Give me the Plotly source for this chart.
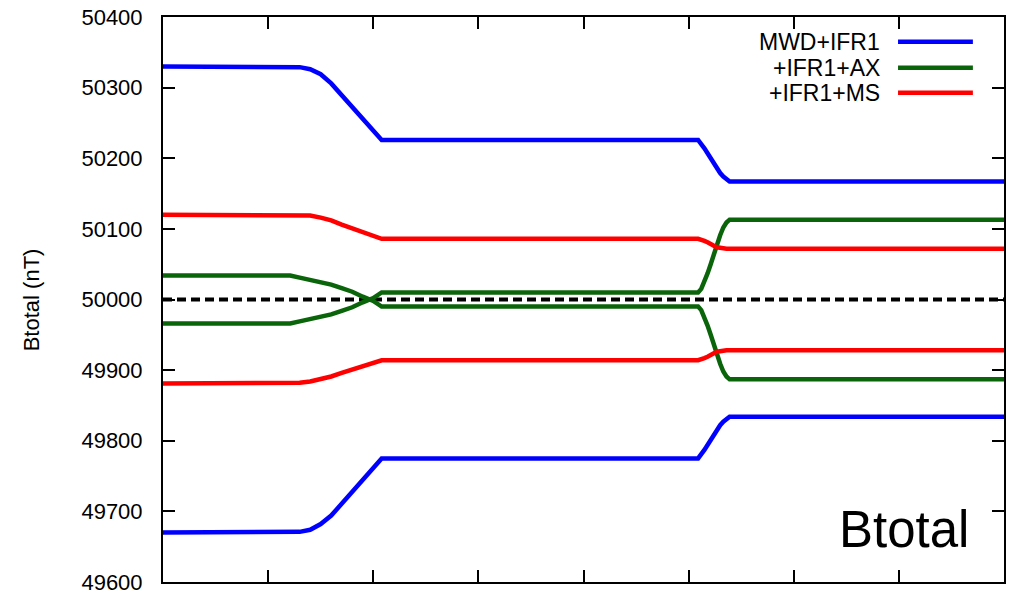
import plotly.graph_objects as go

# Along-track positions (x axis has 8 unlabeled divisions)
x_pos = [0,
         1.21, 1.30, 1.40, 1.50, 1.60, 1.70, 1.80, 1.90, 2.00, 2.08,
         5.09, 5.12, 5.15, 5.18, 5.21, 5.24, 5.27, 5.30, 5.33, 5.36, 5.39,
         8]

# Upper / lower uncertainty envelopes of total field (nT)
mwd_upper = [50330,
             50330, 50329, 50326, 50319, 50306, 50289, 50272, 50256, 50240, 50226,
             50226, 50221, 50214, 50207, 50200, 50192, 50185, 50179, 50174, 50170, 50167,
             50167]
mwd_lower = [49670,
             49670, 49671, 49674, 49682, 49694, 49711, 49728, 49745, 49761, 49775,
             49775, 49780, 49787, 49794, 49801, 49809, 49816, 49822, 49827, 49831, 49834,
             49834]

ax_a = [50034,
        50034, 50031, 50028, 50025, 50021, 50016, 50011, 50004, 49998, 49990,
        49990, 49985, 49975, 49963, 49950, 49935, 49920, 49909, 49898, 49891, 49887,
        49887]
ax_b = [49966,
        49966, 49969, 49972, 49975, 49979, 49984, 49989, 49996, 50002, 50010,
        50010, 50015, 50025, 50037, 50050, 50065, 50080, 50091, 50102, 50109, 50113,
        50113]

ms_upper = [50120,
            50120, 50120, 50119, 50116, 50112, 50106, 50101, 50095, 50090, 50086,
            50086, 50085, 50083, 50081, 50078, 50076, 50074, 50073, 50072, 50072, 50072,
            50072]
ms_lower = [49881,
            49881, 49882, 49884, 49887, 49891, 49896, 49901, 49906, 49910, 49914,
            49914, 49915, 49917, 49919, 49922, 49924, 49926, 49927, 49928, 49928, 49928,
            49928]

reference_field = 50000
x_range = [0, 8]

y_ticks = [49600, 49700, 49800, 49900, 50000, 50100, 50200, 50300, 50400]
legend_names = ["MWD+IFR1", "+IFR1+AX", "+IFR1+MS"]

BLUE = "#0000ff"
GREEN = "#0a640a"
RED = "#ff0000"
FONT = "Liberation Sans, Arial, sans-serif"

fig = go.Figure()

fig.add_trace(go.Scatter(x=x_range, y=[reference_field, reference_field],
                         mode="lines",
                         line=dict(color="black", width=4, dash="9px,5px"),
                         showlegend=False, hoverinfo="skip"))

series = [
    (mwd_upper, BLUE), (mwd_lower, BLUE),
    (ax_a, GREEN), (ax_b, GREEN),
    (ms_upper, RED), (ms_lower, RED),
]
for yv, col in series:
    fig.add_trace(go.Scatter(x=x_pos, y=yv, mode="lines",
                             line=dict(color=col, width=4.5),
                             showlegend=False))

# Legend drawn as right-aligned text followed by a line sample
legend_colors = [BLUE, GREEN, RED]
legend_y = [0.956, 0.910, 0.866]
for name, col, ly in zip(legend_names, legend_colors, legend_y):
    fig.add_annotation(xref="paper", yref="paper", x=0.855, y=ly,
                       text=name, showarrow=False, xanchor="right",
                       yanchor="middle",
                       font=dict(family=FONT, size=23, color="black"))
    fig.add_shape(type="line", xref="paper", yref="paper",
                  x0=0.874, x1=0.963, y0=ly, y1=ly,
                  line=dict(color=col, width=4.5))

fig.add_annotation(xref="paper", yref="paper", x=0.961, y=0.093,
                   text="Btotal", showarrow=False, xanchor="right",
                   yanchor="middle",
                   font=dict(family=FONT, size=51, color="black"))

fig.add_annotation(xref="paper", yref="paper", x=-0.156, y=0.5,
                   text="Btotal (nT)", showarrow=False, textangle=-90,
                   xanchor="center", yanchor="middle",
                   font=dict(family=FONT, size=22, color="black"))

fig.update_layout(
    width=1009, height=595,
    margin=dict(l=163, r=5, t=17, b=13, autoexpand=False),
    paper_bgcolor="white", plot_bgcolor="white",
    font=dict(family=FONT, color="black"),
    xaxis=dict(range=x_range, tickvals=[1, 2, 3, 4, 5, 6, 7],
               showticklabels=False, ticks="inside", ticklen=12,
               tickwidth=2, tickcolor="black", mirror="ticks",
               showline=True, linecolor="black", linewidth=2,
               showgrid=False, zeroline=False, automargin=False),
    yaxis=dict(range=[49600, 50400], tickvals=y_ticks,
               ticktext=[str(v) for v in y_ticks],
               ticks="inside", ticklen=12, tickwidth=2, tickcolor="black",
               mirror="ticks", showline=True, linecolor="black",
               linewidth=2, showgrid=False, zeroline=False,
               automargin=False,
               ticklabelstandoff=14, ticklabeloverflow="allow",
               tickfont=dict(family=FONT, size=22, color="black")),
)

fig.write_html("out.html")
